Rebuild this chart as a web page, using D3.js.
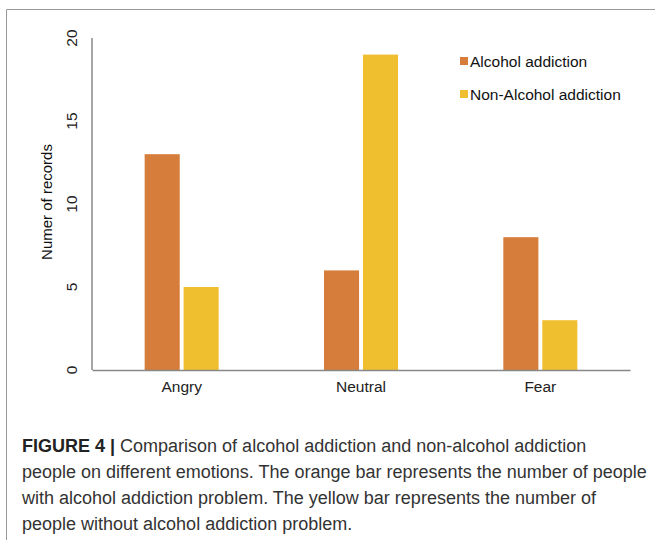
<!DOCTYPE html>
<html>
<head>
<meta charset="utf-8">
<script src="https://cdn.jsdelivr.net/npm/d3@7"></script>
<style>
  body { margin: 0; background: #fff; }
  text { font-family: "Liberation Sans", Arial, sans-serif; }
</style>
</head>
<body>
<div id="chart"></div>
<script>
const FRAME_WIDTH = 655;
const FRAME_HEIGHT = 540;
const MARGINS = {left: 92, right: 25, top: 38, bottom: 170};

const VIS_WIDTH = FRAME_WIDTH - MARGINS.left - MARGINS.right;
const VIS_HEIGHT = FRAME_HEIGHT - MARGINS.top - MARGINS.bottom;

// data
const emotions = ["Angry", "Neutral", "Fear"];
const seriesNames = ["Alcohol addiction", "Non-Alcohol addiction"];
const alcohol = [13, 6, 8];
const nonAlcohol = [5, 19, 3];
const yTicks = [0, 5, 10, 15, 20];

const COLORS = ["#D67D3B", "#F0BF30"];

const FRAME = d3.select("#chart")
                .append("svg")
                  .attr("width", FRAME_WIDTH)
                  .attr("height", FRAME_HEIGHT);

// figure border (top + left)
FRAME.append("line")
      .attr("x1", 6.5).attr("x2", FRAME_WIDTH)
      .attr("y1", 9.5).attr("y2", 9.5)
      .attr("stroke", "#999");
FRAME.append("line")
      .attr("x1", 6.5).attr("x2", 6.5)
      .attr("y1", 9.5).attr("y2", FRAME_HEIGHT)
      .attr("stroke", "#999");

const X_SCALE = d3.scaleBand()
                  .domain(emotions)
                  .range([0, VIS_WIDTH]);

const SUB_SCALE = d3.scaleBand()
                    .domain([0, 1])
                    .range([X_SCALE.bandwidth() / 2 - 37, X_SCALE.bandwidth() / 2 + 37])
                    .paddingInner(0.1);

const Y_SCALE = d3.scaleLinear()
                  .domain([0, 20])
                  .range([VIS_HEIGHT, 0]);

const rows = emotions.map((e, i) => ({emotion: e, values: [alcohol[i], nonAlcohol[i]]}));

const G = FRAME.append("g")
               .attr("transform", "translate(" + MARGINS.left + "," + MARGINS.top + ")");

G.selectAll(".grp")
  .data(rows)
  .enter()
  .append("g")
    .attr("transform", (d) => "translate(" + X_SCALE(d.emotion) + ",0)")
  .selectAll("rect")
  .data((d) => d.values)
  .enter()
  .append("rect")
    .attr("x", (d, i) => SUB_SCALE(i))
    .attr("y", (d) => Y_SCALE(d))
    .attr("width", SUB_SCALE.bandwidth())
    .attr("height", (d) => VIS_HEIGHT - Y_SCALE(d))
    .attr("fill", (d, i) => COLORS[i]);

// x axis
const xAxis = G.append("g")
               .attr("transform", "translate(0," + VIS_HEIGHT + ")")
               .call(d3.axisBottom(X_SCALE).tickSize(0).tickPadding(11));
xAxis.select(".domain").attr("stroke", "#888").attr("stroke-width", 1.5);
xAxis.selectAll("text")
     .attr("font-size", "15.5px")
     .attr("fill", "#222")
     .attr("font-family", "Liberation Sans, Arial, sans-serif");

// y axis (line only, labels rotated)
G.append("line")
  .attr("x1", 0).attr("x2", 0)
  .attr("y1", 0).attr("y2", VIS_HEIGHT)
  .attr("stroke", "#888").attr("stroke-width", 1.5);

G.selectAll(".ytick")
  .data(yTicks)
  .enter()
  .append("text")
    .attr("transform", (d) => "translate(-15," + Y_SCALE(d) + ") rotate(-90)")
    .attr("text-anchor", "middle")
    .attr("font-size", "15.5px")
    .attr("fill", "#222")
    .text((d) => d);

FRAME.append("text")
      .attr("transform", "translate(52," + (MARGINS.top + VIS_HEIGHT / 2 - 2) + ") rotate(-90)")
      .attr("text-anchor", "middle")
      .attr("font-size", "15px")
      .attr("fill", "#111")
      .text("Numer of records");

// legend
const LEG = FRAME.append("g").attr("transform", "translate(460,57)");
LEG.selectAll("rect")
   .data(seriesNames)
   .enter()
   .append("rect")
     .attr("x", 0)
     .attr("y", (d, i) => i * 33)
     .attr("width", 8).attr("height", 8)
     .attr("fill", (d, i) => COLORS[i]);
LEG.selectAll("text")
   .data(seriesNames)
   .enter()
   .append("text")
     .attr("x", 10)
     .attr("y", (d, i) => i * 33 + 9.5)
     .attr("font-size", "15.5px")
     .attr("fill", "#111")
     .text((d) => d);

// caption
const captionLines = [
  "Comparison of alcohol addiction and non-alcohol addiction",
  "people on different emotions. The orange bar represents the number of people",
  "with alcohol addiction problem. The yellow bar represents the number of",
  "people without alcohol addiction problem."
];
const CAP = FRAME.append("g").attr("font-size", "18px").attr("fill", "#333");
const first = CAP.append("text").attr("x", 22).attr("y", 452);
first.append("tspan").attr("font-weight", "bold").attr("fill", "#222").text("FIGURE 4 | ");
first.append("tspan").text(captionLines[0]);
CAP.selectAll(".cl")
   .data(captionLines.slice(1))
   .enter()
   .append("text")
     .attr("x", 22)
     .attr("y", (d, i) => 478 + i * 26)
     .text((d) => d);
</script>
</body>
</html>
